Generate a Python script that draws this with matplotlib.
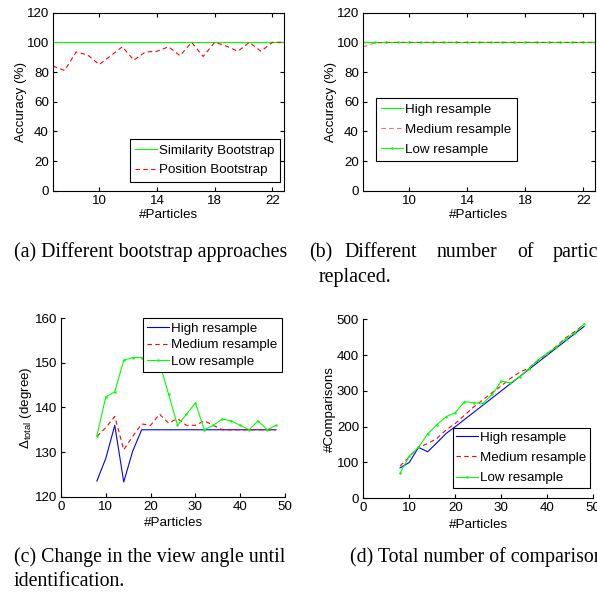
import matplotlib
matplotlib.use('Agg')
import matplotlib.pyplot as plt

plt.rcParams['font.family'] = ['Liberation Sans', 'DejaVu Sans']
plt.rcParams['mathtext.fontset'] = 'custom'
plt.rcParams['mathtext.rm'] = 'Liberation Sans'
plt.rcParams['mathtext.it'] = 'Liberation Sans:italic'

# --- Dados (a) e (b): acurácia vs. número de partículas ---
x_ab = [6.8, 7.6, 8.4, 9.2, 10.0, 10.8, 11.6, 12.4, 13.2, 14.0, 14.8,
        15.6, 16.4, 17.2, 18.0, 18.8, 19.6, 20.4, 21.2, 22.0, 22.8]
similarity_a = [100, 100, 100, 100, 100, 100, 100, 100, 100, 100, 100,
                100, 100, 100, 100, 100, 100, 100, 100, 100, 100]
position_a = [84, 81, 93.5, 91.5, 85, 91, 97, 88, 93.5, 94, 97,
              91, 100, 90.5, 100, 97.5, 94, 100, 94, 100, 100]
high_b = [100, 100, 100, 100, 100, 100, 100, 100, 100, 100, 100,
          100, 100, 100, 100, 100, 100, 100, 100, 100, 100]
medium_b = [97, 99.5, 100, 100, 100, 100, 100, 100, 100, 100, 100,
            100, 100, 100, 100, 100, 100, 100, 100, 100, 100]
low_b = [100, 100, 100, 100, 100, 100, 100, 100, 100, 100, 100,
         100, 100, 100, 100, 100, 100, 100, 100, 100, 100]

# --- Dados (c) e (d) ---
x_cd = [8, 10, 12, 14, 16, 18, 20, 22, 24, 26, 28, 30, 32, 34, 36, 38, 40, 42, 44, 46, 48]
high_c = [123.5, 128.6, 136, 123.3, 130.2, 135, 135, 135, 135, 135, 135,
          135, 135, 135, 135, 135, 135, 135, 135, 135, 135]
medium_c = [133.5, 135.5, 138, 130.5, 133.5, 136.3, 136, 138.5, 136.5, 137.5, 136,
            136, 137, 136, 135, 135, 135, 135, 135, 135, 135]
low_c = [133.6, 142.4, 143.5, 150.6, 151.2, 151.2, 151, 150, 143, 136, 138.5,
         141, 135, 136, 137.4, 137, 136, 135, 137, 135, 136]
high_d = [85, 100, 142, 130, 155, 181, 200, 220, 240, 260, 280,
          300, 320, 340, 360, 380, 400, 420, 440, 460, 480]
medium_d = [90, 116, 142, 153, 167, 191, 209, 232, 255, 275, 295,
            314, 335, 352, 364, 385, 404, 425, 448, 466, 485]
low_d = [70, 118, 142, 180, 205, 228, 239, 270, 267, 265, 290,
         327, 322, 340, 362, 387, 405, 423, 446, 462, 487]

FS = 9.6
LW = 0.8
VERDE = '#00ff00'
TRACO = (4, 3)


def estilo_eixo(ax, caixa=True):
    ax.tick_params(direction='in', length=3, width=0.8, labelsize=FS, pad=3,
                   top=caixa, right=caixa)
    for lado in ['top', 'right']:
        ax.spines[lado].set_visible(caixa)
    for sp in ax.spines.values():
        sp.set_linewidth(0.8)


def legenda(ax, pos, bp, ls, handles=None, labels=None):
    if handles is None:
        handles, labels = ax.get_legend_handles_labels()
    leg = ax.legend(handles, labels, loc='upper left', bbox_to_anchor=pos,
                    borderaxespad=0, fontsize=FS, fancybox=False, framealpha=1,
                    edgecolor='black', borderpad=bp, handlelength=1.6,
                    handletextpad=0.2, labelspacing=ls)
    leg.get_frame().set_linewidth(0.8)
    return leg


fig = plt.figure(figsize=(5.97, 5.92), dpi=100)

# (a)
ax = fig.add_axes([0.0888, 0.6779, 0.3869, 0.3007])
ax.plot(x_ab, similarity_a, color=VERDE, lw=LW, label='Similarity Bootstrap')
ax.plot(x_ab, position_a, 'r--', lw=LW, dashes=TRACO, label='Position Bootstrap')
ax.set_xlim(6.8, 22.8)
ax.set_ylim(0, 120)
ax.set_xticks([10, 14, 18, 22])
ax.set_yticks(range(0, 121, 20))
ax.set_xlabel('#Particles', fontsize=FS, labelpad=1.5)
ax.set_ylabel('Accuracy (%)', fontsize=FS, labelpad=0)
estilo_eixo(ax)
legenda(ax, (0.333, 0.29), bp=0.4, ls=0.55)

# (b)
ax = fig.add_axes([0.608, 0.6779, 0.3886, 0.3007])
ax.plot(x_ab, high_b, color=VERDE, lw=LW, label='High resample')
ax.plot(x_ab, low_b, color=VERDE, lw=LW, marker='.', ms=1.5, label='Low resample')
ax.plot(x_ab, medium_b, 'r--', lw=LW, dashes=TRACO, alpha=0.6, label='Medium resample')
ax.set_xlim(6.8, 22.8)
ax.set_ylim(0, 120)
ax.set_xticks([10, 14, 18, 22])
ax.set_yticks(range(0, 121, 20))
ax.set_xlabel('#Particles', fontsize=FS, labelpad=1.5)
ax.set_ylabel('Accuracy (%)', fontsize=FS, labelpad=0)
estilo_eixo(ax)
h, l = ax.get_legend_handles_labels()
ordem = [0, 2, 1]
legenda(ax, (0.056, 0.521), bp=0.4, ls=0.58,
        handles=[h[i] for i in ordem], labels=[l[i] for i in ordem])

# (c)
ax = fig.add_axes([0.1022, 0.161, 0.3752, 0.3014])
ax.plot(x_cd, high_c, color='blue', lw=LW, label='High resample')
ax.plot(x_cd, medium_c, 'r--', lw=LW, dashes=TRACO, label='Medium resample')
ax.plot(x_cd, low_c, color=VERDE, lw=LW, marker='.', ms=1.5, label='Low resample')
ax.set_xlim(0, 50)
ax.set_ylim(120, 160)
ax.set_xticks(range(0, 51, 10))
ax.set_yticks(range(120, 161, 10))
ax.set_xlabel('#Particles', fontsize=FS, labelpad=3)
ax.set_ylabel(r'$\Delta_{\rm total}$ (degree)', fontsize=FS, labelpad=0)
estilo_eixo(ax, caixa=False)
legenda(ax, (0.366, 1.0), bp=0.33, ls=0.31)

# (d)
ax = fig.add_axes([0.6085, 0.1583, 0.3853, 0.3024])
ax.plot(x_cd, high_d, color='blue', lw=LW, label='High resample')
ax.plot(x_cd, medium_d, 'r--', lw=LW, dashes=TRACO, label='Medium resample')
ax.plot(x_cd, low_d, color=VERDE, lw=LW, marker='.', ms=1.5, label='Low resample')
ax.set_xlim(0, 50)
ax.set_ylim(0, 500)
ax.set_xticks(range(0, 51, 10))
ax.set_yticks(range(0, 501, 100))
ax.set_xlabel('#Particles', fontsize=FS, labelpad=3)
ax.set_ylabel('#Comparisons', fontsize=FS, labelpad=0.5)
estilo_eixo(ax, caixa=False)
legenda(ax, (0.39, 0.393), bp=0.25, ls=0.6)

# --- Legendas das figuras (texto serifado, linha (b) justificada) ---
W, H = 597.0, 592.0
serif = dict(family=['Liberation Serif', 'DejaVu Serif'], fontsize=14.3, va='baseline')


def texto(x, y, s):
    fig.text(x / W, 1 - y / H, s, **serif)


texto(14, 257, '(a) Different bootstrap approaches')
texto(309, 257, '(b)')
texto(344.6, 257, 'Different')
texto(436.9, 257, 'number')
texto(517.1, 257, 'of')
texto(553.1, 257, 'particles')
texto(319, 282, 'replaced.')
texto(14, 562, '(c) Change in the view angle until')
texto(14, 586, 'identification.')
texto(349.5, 562, '(d) Total number of comparisons')

fig.savefig('out.png', dpi=100)
